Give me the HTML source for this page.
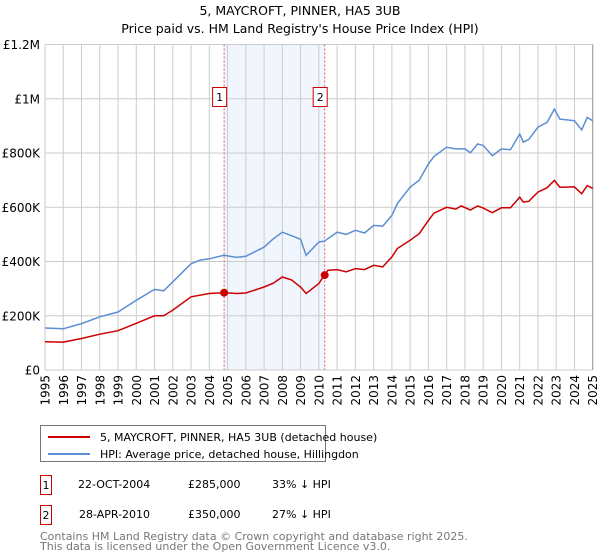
<!DOCTYPE html>
<html><head><meta charset="utf-8">
<style>
body{margin:0;background:#fff;font-family:"Liberation Sans","DejaVu Sans",sans-serif;}
#wrap{position:relative;width:600px;height:560px;overflow:hidden;}
</style></head>
<body><div id="wrap">
<svg id="chart" width="600" height="560" xmlns="http://www.w3.org/2000/svg" font-family="DejaVu Sans, Liberation Sans, sans-serif">
<text x="300" y="15" text-anchor="middle" font-size="12.5" fill="#000">5, MAYCROFT, PINNER, HA5 3UB</text>
<text x="300" y="33" text-anchor="middle" font-size="12.5" fill="#000">Price paid vs. HM Land Registry's House Price Index (HPI)</text>
<g id="grid"></g><g id="marks"></g><g id="axes"></g>
<g>
<rect x="40.5" y="425.5" width="285" height="36" fill="#fff" stroke="#777"/>
<line x1="48" y1="437" x2="90" y2="437" stroke="#cc0000" stroke-width="2"/>
<text x="100" y="441" font-size="11">5, MAYCROFT, PINNER, HA5 3UB (detached house)</text>
<line x1="48" y1="454" x2="90" y2="454" stroke="#5b8fd4" stroke-width="2"/>
<text x="100" y="458" font-size="11">HPI: Average price, detached house, Hillingdon</text>
</g>
<g font-size="11">
<rect x="40.5" y="475.5" width="11" height="19" fill="#fff" stroke="#cc0000"/>
<text x="46" y="489" text-anchor="middle">1</text>
<text x="78" y="488">22-OCT-2004</text>
<text x="188" y="488">£285,000</text>
<text x="272" y="488">33% ↓ HPI</text>
<rect x="40.5" y="505.5" width="11" height="19" fill="#fff" stroke="#cc0000"/>
<text x="46" y="519" text-anchor="middle">2</text>
<text x="79" y="518">28-APR-2010</text>
<text x="188" y="518">£350,000</text>
<text x="272" y="518">27% ↓ HPI</text>
</g>
<text x="40" y="540" font-size="11" fill="#777">Contains HM Land Registry data © Crown copyright and database right 2025.</text>
<text x="40" y="550" font-size="11" fill="#777">This data is licensed under the Open Government Licence v3.0.</text>
</svg></div>
<script>
const hpiYears=[1995,1996,1997,1998,1999,2000,2001,2001.5,2002,2003,2003.5,2004,2004.8,2005.5,2006,2007,2007.5,2008,2008.5,2009,2009.3,2010,2010.3,2011,2011.5,2012,2012.5,2013,2013.5,2014,2014.3,2015,2015.5,2016,2016.3,2017,2017.5,2018,2018.3,2018.7,2019,2019.5,2020,2020.5,2021,2021.2,2021.5,2022,2022.5,2022.9,2023.2,2024,2024.4,2024.7,2025];
const hpiValues=[155,152,171,196,214,257,297,292,325,392,405,410,423,415,419,453,483,508,495,482,423,472,475,508,500,515,505,533,530,570,614,674,700,760,787,821,815,815,801,833,828,790,815,812,870,840,850,895,913,962,925,919,885,931,919];
const ppYears=[1995,1996,1997,1998,1999,2000,2001,2001.5,2002,2003,2004,2004.8,2005.5,2006,2007,2007.5,2008,2008.5,2009,2009.3,2010,2010.3,2010.5,2011,2011.5,2012,2012.5,2013,2013.5,2014,2014.3,2015,2015.5,2016,2016.3,2017,2017.5,2017.8,2018.3,2018.7,2019,2019.5,2020,2020.5,2021,2021.2,2021.5,2022,2022.5,2022.9,2023.2,2024,2024.4,2024.7,2025];
const ppValues=[104,103,116,132,145,172,200,200,221,270,282,285,282,284,306,320,343,332,306,282,319,350,368,370,362,374,370,386,380,417,448,478,503,551,578,600,593,605,590,605,597,580,598,598,637,619,622,656,672,699,674,675,650,680,670];
const saleYears=[2004.81,2010.32];
const saleValues=[285,350];
const saleLabels=["1","2"];
const yTicks=[0,200,400,600,800,1000,1200];
const yTickLabels=["£0","£200K","£400K","£600K","£800K","£1M","£1.2M"];
const xTicks=[1995,1996,1997,1998,1999,2000,2001,2002,2003,2004,2005,2006,2007,2008,2009,2010,2011,2012,2013,2014,2015,2016,2017,2018,2019,2020,2021,2022,2023,2024,2025];

const NS="http://www.w3.org/2000/svg";
const X0=45,X1=592.7,Y0=370,Y1=44.5;
const xs=v=>X0+(v-1995)/30*(X1-X0);
const ys=v=>Y0-v/1200*(Y0-Y1);
function mk(tag,attrs,parent){const e=document.createElementNS(NS,tag);for(const k in attrs)e.setAttribute(k,attrs[k]);parent.appendChild(e);return e;}
const grid=document.getElementById('grid'),marks=document.getElementById('marks'),axes=document.getElementById('axes');
// shaded period
const sh=mk('rect',{x:xs(saleYears[0]),y:Y1,width:xs(saleYears[1])-xs(saleYears[0]),height:Y0-Y1,fill:'#eef3fc',opacity:0.8},grid);


yTicks.forEach((t,i)=>{
 const l=mk('line',{x1:X0,x2:X1,y1:ys(t),y2:ys(t),stroke:'#ccc','stroke-width':1},grid);
 
 
 const tx=mk('text',{x:X0-5,y:ys(t)+4.5,'text-anchor':'end','font-size':12},axes);
 tx.textContent=yTickLabels[i];
 
 
});
xTicks.forEach(t=>{
 const l=mk('line',{x1:xs(t),x2:xs(t),y1:Y1,y2:Y0,stroke:'#ccc','stroke-width':1},grid);
 
 
 const tx=mk('text',{x:0,y:0,'text-anchor':'end','font-size':12,transform:`translate(${xs(t)+4.5},${Y0+5}) rotate(-90)`},axes);
 tx.textContent=String(t);
 
 
});
const rightEdge=mk('line',{x1:X1,x2:X1,y1:Y1,y2:Y0,stroke:'#999','stroke-width':1},grid);


saleYears.forEach((yr,i)=>{
 const l=mk('line',{x1:xs(yr),x2:xs(yr),y1:Y1,y2:Y0,stroke:'#e06060','stroke-width':1,'stroke-dasharray':'2,2'},marks);
 
 
});
function path(xsArr,vals){return xsArr.map((x,i)=>(i?'L':'M')+xs(x).toFixed(1)+','+ys(vals[i]).toFixed(1)).join('');}
const hp=mk('path',{d:path(hpiYears,hpiValues),fill:'none',stroke:'#5b8fd4','stroke-width':1.5},marks);


const pp=mk('path',{d:path(ppYears,ppValues),fill:'none',stroke:'#cc0000','stroke-width':1.5},marks);


saleYears.forEach((yr,i)=>{
 const c=mk('circle',{cx:xs(yr),cy:ys(saleValues[i]),r:4,fill:'#cc0000'},marks);
 
 
 const b=mk('rect',{x:xs(yr)-11.5,y:87.5,width:14,height:19,fill:'#fff',stroke:'#cc0000'},marks);
 
 
 const t=mk('text',{x:xs(yr)-4.5,y:101,'text-anchor':'middle','font-size':11},marks);
 t.textContent=saleLabels[i];
 
 
});
</script>
</body></html>
